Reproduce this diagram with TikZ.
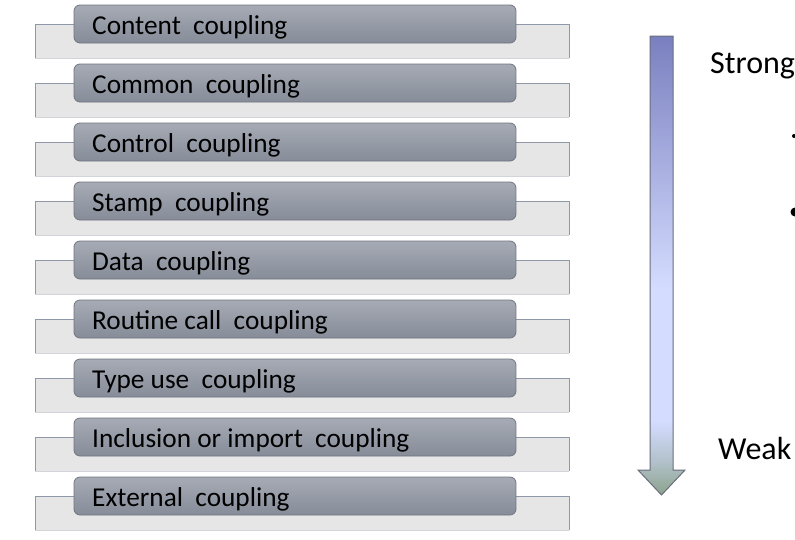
\documentclass[tikz,border=0pt]{standalone}
\usepackage{fontspec}
\setmainfont{Carlito}
\definecolor{barfill}{HTML}{E6E6E6}
\definecolor{baredge}{HTML}{8E98A8}
\definecolor{barbot}{HTML}{D2D4DA}
\definecolor{boxtop}{HTML}{A6ABB5}
\definecolor{boxbot}{HTML}{868C98}
\definecolor{boxedge}{HTML}{70757F}
\definecolor{arrtop}{HTML}{7A80BF}
\definecolor{arrmid}{HTML}{D4DCFF}
\definecolor{arrmidg}{HTML}{B0C0C8}
\definecolor{arrbot}{HTML}{8CA28C}
\definecolor{arredge}{HTML}{6A6E7C}
\pgfdeclareverticalshading{arrshade}{100bp}{color(0bp)=(arrbot); color(25bp)=(arrbot); color(28.5bp)=(arrmidg); color(33bp)=(arrmid); color(47.5bp)=(arrmid); color(75bp)=(arrtop); color(100bp)=(arrtop)}
\begin{document}
\begin{tikzpicture}[x=1pt,y=-1pt,
  itembox/.style={rounded corners=6pt,draw=boxedge,line width=0.8pt,top color=boxtop,bottom color=boxbot},
  itemtext/.style={anchor=west,inner sep=0pt,font=\fontsize{27.3}{31}\selectfont,text=black},
  sidetext/.style={anchor=west,inner sep=0pt,font=\fontsize{32}{36}\selectfont,text=black}]
\useasboundingbox (0,0) rectangle (795,539);
\fill[white] (0,0) rectangle (795,539);
\foreach \i/\t in {0/Content\ \ coupling,1/Common\ \ coupling,2/Control\ \ coupling,3/Stamp\ \ coupling,4/Data\ \ coupling,5/Routine call\ \ coupling,6/Type use\ \ coupling,7/Inclusion or import\ \ coupling,8/External\ \ coupling}{
  \pgfmathsetmacro{\yb}{24+59*\i}
  \pgfmathsetmacro{\yt}{5+59*\i}
  \fill[barfill] (35,\yb) rectangle (569,\yb+34);
  \draw[barbot,line width=0.8pt] (35,\yb+34) -- (569,\yb+34);
  \draw[baredge,line width=0.8pt] (35,\yb+34) -- (35,\yb) -- (569,\yb) -- (569,\yb+34);
  \draw[itembox] (74,\yt) rectangle (516,\yt+38);
  \node[itemtext] (item\i) at (92,\yt+22) {\t};
}
\path[draw=arredge,line width=1pt,shading=arrshade,shading angle=0]
  (650,36) -- (673,36) -- (673,470) -- (685,470) -- (661.5,495) -- (638,470) -- (650,470) -- cycle;
\node[sidetext] (strong) at (710,66) {Strong};
\node[sidetext] (weak) at (718,448) {Weak};
\begin{scope}
\clip (0,0) rectangle (795,539);
\fill[black] (794,136) circle (2);
\fill[black] (795,212) circle (4.5);
\end{scope}
\end{tikzpicture}
\end{document}
